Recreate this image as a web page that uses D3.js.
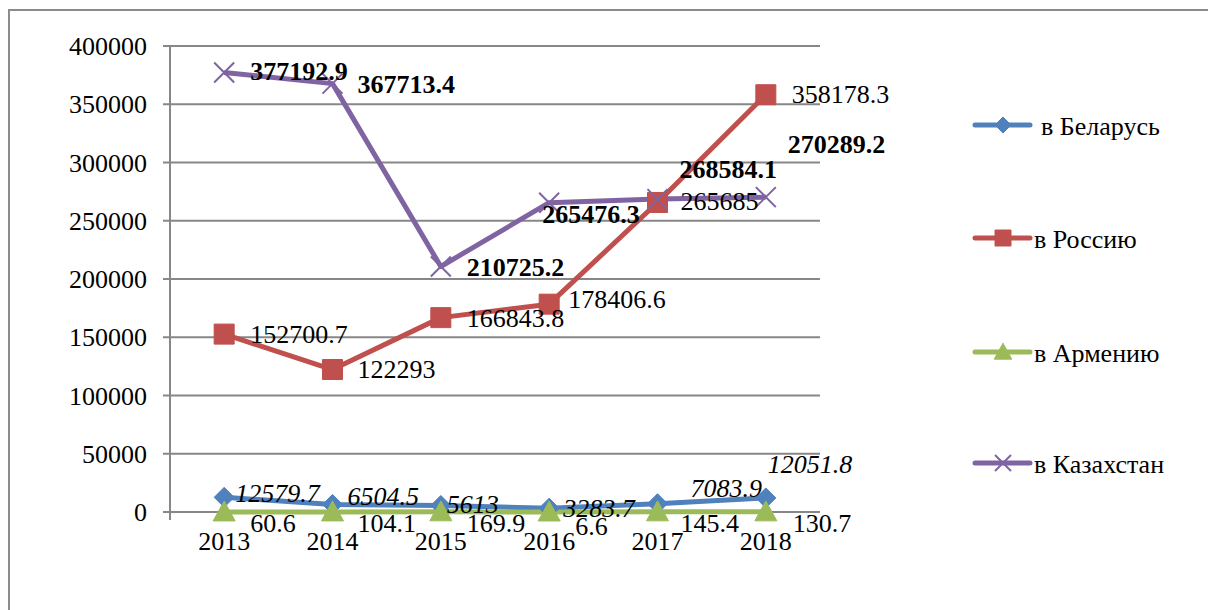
<!DOCTYPE html>
<html>
<head>
<meta charset="utf-8">
<script src="https://cdn.jsdelivr.net/npm/d3@7"></script>
<style>
  body { margin: 0; background: #fff; }
</style>
</head>
<body>
<div id="chart"></div>
<script>
// chart data
var years = ["2013", "2014", "2015", "2016", "2017", "2018"];
var belarus = [12579.7, 6504.5, 5613, 3283.7, 7083.9, 12051.8];
var russia = [152700.7, 122293, 166843.8, 178406.6, 265685, 358178.3];
var armenia = [60.6, 104.1, 169.9, 6.6, 145.4, 130.7];
var kazakhstan = [377192.9, 367713.4, 210725.2, 265476.3, 268584.1, 270289.2];
var seriesNames = ["в Беларусь", "в Россию", "в Армению", "в Казахстан"];
var yTicks = [0, 50000, 100000, 150000, 200000, 250000, 300000, 350000, 400000];

// where each data label sits relative to its point (moved by hand in the original)
var labelShift = [
  [[11, 5], [15, 1], [6, 8], [14, 9], [33, -7], [2, -25]],
  [[26, 9], [25, 8], [26, 9], [19, 4], [23, 8], [26, 8]],
  [[26, 20], [25, 20], [26, 20], [26, 23], [23, 20], [27, 20]],
  [[26, 7], [25, 9], [26, 9], [-7, 20], [22, -21], [22, -44]]
];

var svgWidth = 1208;
var svgHeight = 610;

var svg = d3.select("#chart")
  .append("svg")
  .attr("width", svgWidth)
  .attr("height", svgHeight)
  .attr("font-family", "'Liberation Serif', 'DejaVu Serif', serif");

// outer frame (only left and top edges are visible)
svg.append("path")
  .attr("d", "M9,610 V10 H1208")
  .attr("fill", "none")
  .attr("stroke", "#8c8c8c")
  .attr("stroke-width", 2);

var plot = { left: 170, right: 820, top: 46, bottom: 512 };

var x = d3.scaleBand()
  .domain(years)
  .range([plot.left, plot.right])
  .padding(0);

var y = d3.scaleLinear()
  .domain([0, 400000])
  .range([plot.bottom, plot.top]);

function cx(i) { return x(years[i]) + x.bandwidth() / 2; }

// gridlines + tick labels
var grid = svg.append("g");
grid.selectAll("line")
  .data(yTicks)
  .enter()
  .append("line")
  .attr("x1", plot.left - 7)
  .attr("x2", plot.right)
  .attr("y1", d => y(d))
  .attr("y2", d => y(d))
  .attr("stroke", "#878787")
  .attr("stroke-width", 2);

grid.selectAll("text")
  .data(yTicks)
  .enter()
  .append("text")
  .attr("x", 147)
  .attr("y", d => y(d) + 9)
  .attr("text-anchor", "end")
  .attr("font-size", 26)
  .text(d => d);

// vertical axis line
svg.append("line")
  .attr("x1", plot.left)
  .attr("x2", plot.left)
  .attr("y1", plot.top)
  .attr("y2", plot.bottom + 8)
  .attr("stroke", "#878787")
  .attr("stroke-width", 2);

// year labels
svg.selectAll(".year")
  .data(years)
  .enter()
  .append("text")
  .attr("class", "year")
  .attr("x", (d, i) => cx(i))
  .attr("y", 550)
  .attr("text-anchor", "middle")
  .attr("font-size", 26)
  .text(d => d);

var series = [
  { name: seriesNames[0], values: belarus, color: "#4f81bd", marker: "diamond", style: "italic", weight: "normal" },
  { name: seriesNames[1], values: russia, color: "#c0504d", marker: "square", style: "normal", weight: "normal" },
  { name: seriesNames[2], values: armenia, color: "#9bbb59", marker: "triangle", style: "normal", weight: "normal" },
  { name: seriesNames[3], values: kazakhstan, color: "#8064a2", marker: "x", style: "normal", weight: "bold" }
];

function markerPath(type, s) {
  if (type === "diamond") return `M0,${-s} L${s},0 L0,${s} L${-s},0 Z`;
  if (type === "square") return `M${-s},${-s} H${s} V${s} H${-s} Z`;
  if (type === "triangle") return `M0,${-s * 1.1} L${s * 1.1},${s * 0.9} L${-s * 1.1},${s * 0.9} Z`;
  return `M${-s},${-s} L${s},${s} M${-s},${s} L${s},${-s}`;
}

function drawMarker(g, type, color, s) {
  g.append("path")
    .attr("d", markerPath(type, s))
    .attr("fill", type === "x" ? "none" : color)
    .attr("stroke", color)
    .attr("stroke-width", type === "x" ? 2 : 1);
}

var line = d3.line()
  .x((d, i) => cx(i))
  .y(d => y(d));

series.forEach(function(s) {
  svg.append("path")
    .datum(s.values)
    .attr("d", line)
    .attr("fill", "none")
    .attr("stroke", s.color)
    .attr("stroke-width", 5)
    .attr("stroke-linejoin", "round");
});

var markerSize = { diamond: 10, square: 10, triangle: 10, x: 10 };

series.forEach(function(s) {
  s.values.forEach(function(v, i) {
    var g = svg.append("g").attr("transform", `translate(${cx(i)},${y(v)})`);
    drawMarker(g, s.marker, s.color, markerSize[s.marker]);
  });
});

// data labels
series.forEach(function(s, k) {
  svg.append("g").selectAll("text")
    .data(s.values)
    .enter()
    .append("text")
    .attr("x", (d, i) => cx(i) + labelShift[k][i][0])
    .attr("y", (d, i) => y(d) + labelShift[k][i][1])
    .attr("font-size", 26)
    .attr("font-style", s.style)
    .attr("font-weight", s.weight)
    .text(d => d);
});

// legend
var legendY = [125, 238, 352, 463];
series.forEach(function(s, k) {
  var g = svg.append("g").attr("transform", `translate(975,${legendY[k]})`);
  g.append("line")
    .attr("x1", 0).attr("x2", 55)
    .attr("stroke", s.color)
    .attr("stroke-width", 5)
    .attr("stroke-linecap", "round");
  var m = g.append("g").attr("transform", "translate(28,0)");
  drawMarker(m, s.marker, s.color, 8);
  g.append("text")
    .attr("x", k === 0 ? 66 : 59)
    .attr("y", 10)
    .attr("font-size", 26)
    .text(s.name);
});
</script>
</body>
</html>
